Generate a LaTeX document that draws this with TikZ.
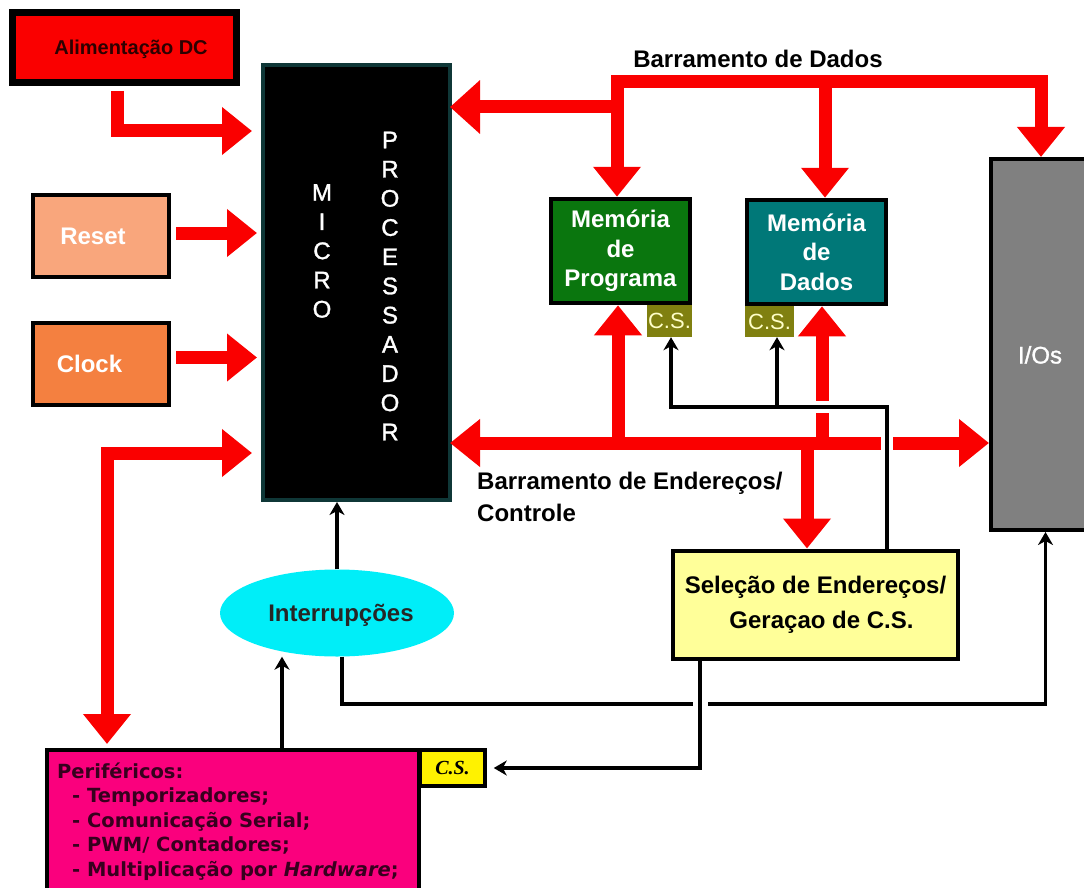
\documentclass[tikz,border=0pt]{standalone}
\usepackage{fontspec}
\setmainfont{Liberation Sans}
\newfontfamily\perifont{DejaVu Sans}
\newfontfamily\serifcs{Liberation Serif}
\newfontfamily\chipfont[FakeBold=1.3]{Liberation Sans}
\usetikzlibrary{arrows.meta,shapes.geometric}

\definecolor{busred}{RGB}{250,0,0}
\definecolor{resetfill}{RGB}{249,166,124}
\definecolor{clockfill}{RGB}{244,128,64}
\definecolor{progfill}{RGB}{10,118,14}
\definecolor{datafill}{RGB}{0,120,120}
\definecolor{csolive}{RGB}{128,128,16}
\definecolor{csfont}{RGB}{255,255,200}
\definecolor{iofill}{RGB}{128,128,128}
\definecolor{selfill}{RGB}{255,255,153}
\definecolor{intfill}{RGB}{0,238,248}
\definecolor{perifill}{RGB}{250,0,125}
\definecolor{peritext}{RGB}{55,0,30}
\definecolor{microedge}{RGB}{15,55,55}
\definecolor{alimtext}{RGB}{45,0,0}

\begin{document}
\begin{tikzpicture}[x=1pt,y=-1pt,
  box/.style={draw=black, line width=4pt, inner sep=0pt, rectangle},
  lbl/.style={inner sep=0pt, font=\bfseries\fontsize{24}{29}\selectfont},
  redbus/.style={draw=busred, line width=13pt},
  redtip/.style={-{Triangle[length=30pt,width=46pt]}},
  redtips/.style={{Triangle[length=30pt,width=46pt]}-{Triangle[length=30pt,width=46pt]}},
  wire/.style={draw=black, line width=3.5pt},
  wiretip/.style={-{Stealth[length=13pt,width=15pt,inset=4pt]}},
  halo/.style={draw=white, line width=12pt},
  peritxt/.style={inner sep=0pt, anchor=base west, text=peritext,
    font=\perifont\bfseries\fontsize{19.5}{24.5}\selectfont},
]
\fill[white] (0,0) rectangle (1084,888);
\clip (0,0) rectangle (1084,888);

% ---------- blocks ----------
\node[box, line width=7pt, fill=busred, minimum width=224pt, minimum height=70pt] (alim) at (124.5,47.5) {};
\node[inner sep=0pt, anchor=base, text=alimtext, font=\bfseries\fontsize{20}{24}\selectfont] (alimlbl) at (131,54.2) {Alimentação DC};

\node[box, draw=microedge, fill=black, minimum width=187pt, minimum height=435pt] (micro) at (356.5,282.5) {};
\node[inner sep=0pt, text=white, align=center, font=\chipfont\fontsize{24}{29.2}\selectfont] (microA) at (322,251) {M\\I\\C\\R\\O};
\node[inner sep=0pt, text=white, align=center, font=\chipfont\fontsize{24}{29.2}\selectfont] (microB) at (390,286) {P\\R\\O\\C\\E\\S\\S\\A\\D\\O\\R};

\node[box, fill=resetfill, minimum width=136pt, minimum height=82pt] (reset) at (101,236) {};
\node[lbl, anchor=base, text=white] (resetlbl) at (93,244.6) {Reset};
\node[box, fill=clockfill, minimum width=136pt, minimum height=82pt] (clock) at (101,364) {};
\node[lbl, anchor=base, text=white] (clocklbl) at (89.5,372.6) {Clock};

\node[box, line width=4.5pt, fill=progfill, minimum width=139pt, minimum height=104pt, text=white, align=center,
  font=\bfseries\fontsize{24}{29.5}\selectfont] (prog) at (620.5,251) {Memória\\de\\Programa};
\node[fill=csolive, inner sep=0pt, minimum width=45pt, minimum height=32pt, text=csfont,
  font=\fontsize{22}{24}\selectfont] (progcs) at (669.5,321) {C.S.};

\node[box, line width=4.5pt, fill=datafill, minimum width=139pt, minimum height=104pt, text=white, align=center,
  font=\bfseries\fontsize{24}{29.5}\selectfont] (datamem) at (816.5,252) {Memória\\de\\Dados};
\node[fill=csolive, inner sep=0pt, minimum width=49pt, minimum height=31pt, text=csfont,
  font=\fontsize{22}{24}\selectfont] (datacs) at (769.5,321.5) {C.S.};

\node[box, fill=iofill, minimum width=109pt, minimum height=371pt] (io) at (1045.5,344.5) {};
\node[inner sep=0pt, anchor=base, text=white, font=\chipfont\fontsize{24}{29}\selectfont] (iolbl) at (1040,363.5) {I/Os};

\node[box, fill=selfill, minimum width=285pt, minimum height=108pt, align=center,
  font=\bfseries\fontsize{24}{35}\selectfont] (sel) at (815.5,604.5) {Seleção de Endereços/\\\hspace*{12pt}Geraçao de C.S.};

\node[ellipse, fill=intfill, inner sep=0pt, minimum width=234pt, minimum height=87pt] (intr) at (337,613) {};
\node[lbl, anchor=base, text=black!85] (intrlbl) at (341,621.6) {Interrupções};

\node[box, fill=perifill, minimum width=372pt, minimum height=150pt] (peri) at (233,825) {};
\node[peritxt] (p1) at (57,778) {Periféricos:};
\node[peritxt] (p2) at (57,802.5) {\hspace*{15pt}- Temporizadores;};
\node[peritxt] (p3) at (57,827) {\hspace*{15pt}- Comunicação Serial;};
\node[peritxt] (p4) at (57,851.5) {\hspace*{15pt}- PWM/ Contadores;};
\node[peritxt] (p5) at (57,876) {\hspace*{15pt}- Multiplicação por {\itshape Hardware};};
\node[box, line width=3.5pt, fill=yellow, minimum width=65pt, minimum height=36pt,
  font=\serifcs\bfseries\itshape\fontsize{20}{24}\selectfont] (pcs) at (452.5,768) {C.S.};

% ---------- bus labels ----------
\node[lbl, anchor=base] (dbuslbl) at (758,67.6) {Barramento de Dados};
\node[lbl, anchor=base west] (abuslbl1) at (477,489.6) {Barramento de Endereços/};
\node[lbl, anchor=base west] (abuslbl2) at (477,521.6) {Controle};

% ---------- ports and bends ----------
\coordinate (alimOut) at (117.5,91);
\coordinate (alimIn)  at (252,131);
\coordinate (resetOut) at (176,233);
\coordinate (resetIn)  at (257,233);
\coordinate (clockOut) at (176,357.5);
\coordinate (clockIn)  at (257,357.5);
\coordinate (periMicro) at (252,453);
\coordinate (periBend)  at (107,453);
\coordinate (periIn)    at (107,744);
\coordinate (dTop) at (617,82);
\coordinate (dLeft) at (617,107);
\coordinate (dMicro) at (450,107);
\coordinate (dMid) at (825,82);
\coordinate (aMicro) at (450,443);
\coordinate (aIO) at (989,443);
\coordinate (aP) at (618,443);
\coordinate (aD) at (822,443);
\coordinate (aS) at (807,443);
\coordinate (csJ) at (887,407);
\coordinate (csL) at (671,407);
\coordinate (csM) at (777,407);
\coordinate (piX) at (282,0);
\coordinate (selOutX) at (700,0);
\coordinate (cross) at (700,703);

% ---------- red buses ----------
\draw[redbus, redtip] (alimOut) |- (alimIn);
\draw[redbus, redtip] (resetOut) -- (resetIn);
\draw[redbus, redtip] (clockOut) -- (clockIn);
\draw[redbus, redtips] (periMicro) -- (periBend) -- (periIn);

\draw[redbus, redtips] ([xshift=-3.5pt]prog.north) -- (dTop) -| ([xshift=-4.5pt]io.north);
\draw[redbus, -{Triangle[length=30pt,width=52pt]}] (dLeft) -- (dMicro);
\draw[redbus, redtip] (dMid) -- ([xshift=8.5pt]datamem.north);

\draw[redbus, redtips] (aMicro) -- (aIO);
\draw[redbus, redtip] (aP) -- ([xshift=-2.5pt]prog.south);
\draw[redbus, redtip] (aD) -- ([xshift=5.5pt]datamem.south);
\draw[redbus, redtip] (aS) -- ([xshift=-8.5pt]sel.north);

% ---------- chip-select wiring ----------
\draw[halo] ([xshift=71.5pt,yshift=15pt]sel.north) -- (csJ) -- (csL);
\draw[wire, wiretip] ([xshift=71.5pt]sel.north) -- (csJ) -- (csL) -- ([xshift=1.5pt]progcs.south);
\draw[wire, wiretip] (csM) -- (csM |- datacs.south);

% ---------- interrupts ----------
\draw[wire, wiretip] (intr.north) -- (intr.north |- micro.south);
\draw[wire, wiretip] (peri.north -| piX) -- (piX |- intr.south);
\draw[wire, wiretip] ([xshift=5pt]intr.south) |- ([yshift=-172pt]io.south) -- (io.south);

\draw[draw=white, line width=15pt] ([yshift=13pt]cross) -- ([yshift=-13pt]cross);
\draw[wire, wiretip] (sel.south -| selOutX) |- ([xshift=7pt]pcs.east);
\end{tikzpicture}
\end{document}
